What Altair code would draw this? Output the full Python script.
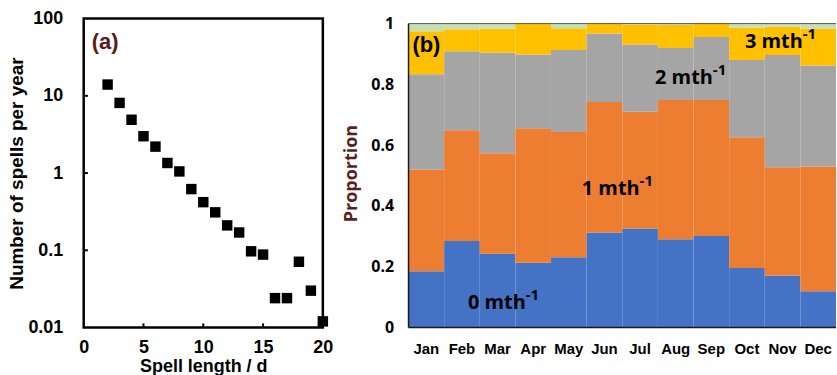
import altair as alt
import pandas as pd

# ---------- panel (a) data ----------
spell_len = list(range(2, 21))
spells_per_year = [14, 8.1, 4.9, 3.0, 2.2, 1.35, 1.05, 0.62, 0.42, 0.31, 0.21, 0.17,
                   0.097, 0.088, 0.024, 0.024, 0.071, 0.030, 0.012]
a_xticks = [0, 5, 10, 15, 20]
a_yticks = [0.01, 0.1, 1, 10, 100]
a_inner_yticks = [0.1, 1, 10]
a_inner_xticks = [5, 10, 15]

# ---------- panel (b) data ----------
months = ["Jan", "Feb", "Mar", "Apr", "May", "Jun", "Jul", "Aug", "Sep", "Oct", "Nov", "Dec"]
p0 = [0.185, 0.285, 0.243, 0.213, 0.231, 0.313, 0.326, 0.290, 0.301, 0.196, 0.170, 0.119]
p1 = [0.334, 0.364, 0.330, 0.443, 0.412, 0.429, 0.384, 0.459, 0.448, 0.430, 0.357, 0.411]
p2 = [0.314, 0.260, 0.331, 0.242, 0.270, 0.225, 0.221, 0.171, 0.207, 0.254, 0.370, 0.332]
p3 = [0.142, 0.072, 0.079, 0.102, 0.072, 0.033, 0.066, 0.075, 0.044, 0.107, 0.093, 0.122]
p4 = [0.025, 0.019, 0.017, 0.000, 0.015, 0.000, 0.003, 0.005, 0.000, 0.013, 0.010, 0.016]
cats = ["0 mth", "1 mth", "2 mth", "3 mth", "4+ mth"]
cat_colors = ["#4472C4", "#ED7D31", "#A5A5A5", "#FFC000", "#C5E0B4"]
b_yticks = [0, 0.2, 0.4, 0.6, 0.8, 1]

# annotation anchors for panel (b)
ann_text = ["0 mth", "1 mth", "2 mth", "3 mth"]
ann_month = ["Feb", "May", "Jul", "Oct"]
ann_y = [0.062, 0.436, 0.801, 0.920]
ann_dx = [6, 13, 15, -2]

FONT = "Liberation Sans"
FONT2 = "Open Sans"

# ---------------- panel (a) ----------------
dfa = pd.DataFrame({"len": spell_len, "n": spells_per_year})
xa = alt.Scale(domain=[0, 20], nice=False, zero=False)
ya = alt.Scale(type="log", domain=[0.01, 100], nice=False)

pts = alt.Chart(dfa).mark_point(shape="square", filled=True, color="black", size=110, opacity=1).encode(
    x=alt.X("len:Q", scale=xa, axis=alt.Axis(
        values=a_xticks, title="Spell length / d", ticks=False, domain=False, grid=False,
        labelFlush=False, labelFont=FONT, labelFontWeight="bold", labelFontSize=18,
        labelColor="black", labelPadding=11, titleFont=FONT, titleFontWeight="bold",
        titleFontSize=18, titleColor="black", titlePadding=1)),
    y=alt.Y("n:Q", scale=ya, axis=alt.Axis(
        values=a_yticks, format="~g", title="Number of spells per year", ticks=False,
        domain=False, grid=False, labelFlush=False, labelFont=FONT, labelFontWeight="bold",
        labelFontSize=18, labelColor="black", labelPadding=21, titleFont=FONT,
        titleFontWeight="bold", titleFontSize=19, titleColor="black", titlePadding=1)),
)

ytick_df = pd.DataFrame({"v": a_inner_yticks, "x0": [0] * 3, "x1": [0.35] * 3})
yticks_in = alt.Chart(ytick_df).mark_rule(color="black", strokeWidth=2).encode(
    x=alt.X("x0:Q", scale=xa), x2="x1:Q", y=alt.Y("v:Q", scale=ya))
xtick_df = pd.DataFrame({"v": a_inner_xticks, "y0": [0.01] * 3, "y1": [0.0113] * 3})
xticks_in = alt.Chart(xtick_df).mark_rule(color="black", strokeWidth=2).encode(
    x=alt.X("v:Q", scale=xa), y=alt.Y("y0:Q", scale=ya), y2="y1:Q")

lab_a = alt.Chart(pd.DataFrame({"t": ["(a)"], "x": [0.67], "y": [40]})).mark_text(
    font=FONT, fontWeight="bold", fontSize=22, color="#5A1A1A", align="left", baseline="alphabetic"
).encode(x=alt.X("x:Q", scale=xa), y=alt.Y("y:Q", scale=ya), text="t:N")

left = alt.layer(pts, yticks_in, xticks_in, lab_a).properties(
    width=240, height=310,
    view=alt.ViewBackground(stroke="black", strokeWidth=2.5))

# ---------------- panel (b) ----------------
rows = []
for i, m in enumerate(months):
    for k, (c, arr) in enumerate(zip(cats, [p0, p1, p2, p3, p4])):
        rows.append({"month": m, "cat": c, "k": k, "p": arr[i]})
dfb = pd.DataFrame(rows)

xb = alt.Scale(domain=months, paddingInner=0, paddingOuter=0)
yb = alt.Scale(domain=[0, 1.0164], nice=False, zero=True)

bars = alt.Chart(dfb).mark_bar(strokeWidth=0).encode(
    x=alt.X("month:N", sort=months, scale=xb, axis=alt.Axis(
        title=None, ticks=False, domain=False, labelAngle=0, labelFont=FONT,
        labelFontWeight="bold", labelFontSize=15, labelColor="black", labelPadding=14)),
    y=alt.Y("p:Q", stack="zero", scale=yb, axis=alt.Axis(
        values=b_yticks, format=".1~f", title="Proportion", ticks=False, domain=False, grid=False,
        labelFont=FONT2, labelFontWeight="bold", labelFontSize=16, labelColor="black",
        labelPadding=15, titleFont=FONT2, titleFontWeight="bold", titleFontSize=18,
        titleColor="#5A1E1E", titlePadding=10)),
    color=alt.Color("cat:N", scale=alt.Scale(domain=cats, range=cat_colors), legend=None),
    order=alt.Order("k:Q", sort="ascending"),
)

axis_left = alt.Chart(pd.DataFrame({"y0": [0], "y1": [1]})).mark_rule(color="#1a1a1a", strokeWidth=1.5).encode(
    x=alt.value(0), y=alt.Y("y0:Q", scale=yb), y2="y1:Q")
axis_bottom = alt.Chart(pd.DataFrame({"y0": [0]})).mark_rule(color="#1a1a1a", strokeWidth=1.5).encode(
    x=alt.value(0), x2=alt.value(429), y=alt.Y("y0:Q", scale=yb))
axis_top = alt.Chart(pd.DataFrame({"y0": [1]})).mark_rule(color="#555555", strokeWidth=1).encode(
    x=alt.value(0), x2=alt.value(429), y=alt.Y("y0:Q", scale=yb))

ann_df = pd.DataFrame({"t": ann_text, "m": ann_month, "y": ann_y})
ann_layers = []
for i in range(len(ann_text)):
    sub = ann_df.iloc[[i]]
    ann_layers.append(alt.Chart(sub).mark_text(
        font=FONT2, fontWeight="bold", fontSize=20, color="black", align="left",
        baseline="alphabetic", dx=ann_dx[i]).encode(
        x=alt.X("m:N", sort=months, scale=xb), y=alt.Y("y:Q", scale=yb), text="t:N"))
    ann_layers.append(alt.Chart(sub).mark_text(
        font=FONT2, fontWeight="bold", fontSize=15, color="black", align="left",
        baseline="alphabetic", dx=ann_dx[i] + 58, dy=-9).encode(
        x=alt.X("m:N", sort=months, scale=xb), y=alt.Y("y:Q", scale=yb), text=alt.value("-1")))

lab_b = alt.Chart(pd.DataFrame({"t": ["(b)"], "m": ["Jan"], "y": [0.905]})).mark_text(
    font=FONT, fontWeight="bold", fontSize=22, color="black", align="left",
    baseline="alphabetic", dx=-14).encode(
    x=alt.X("m:N", sort=months, scale=xb), y=alt.Y("y:Q", scale=yb), text="t:N")

right = alt.layer(bars, axis_left, axis_bottom, axis_top, *ann_layers, lab_b).properties(
    width=429, height=310,
    view=alt.ViewBackground(strokeWidth=0))

chart = alt.hconcat(left, right, spacing=86, bounds="flush").properties(
    padding={"left": 6, "top": 7, "right": 0, "bottom": 0}
).configure(background="white")

chart.save("out.html", embed_options={"renderer": "svg", "actions": False})
